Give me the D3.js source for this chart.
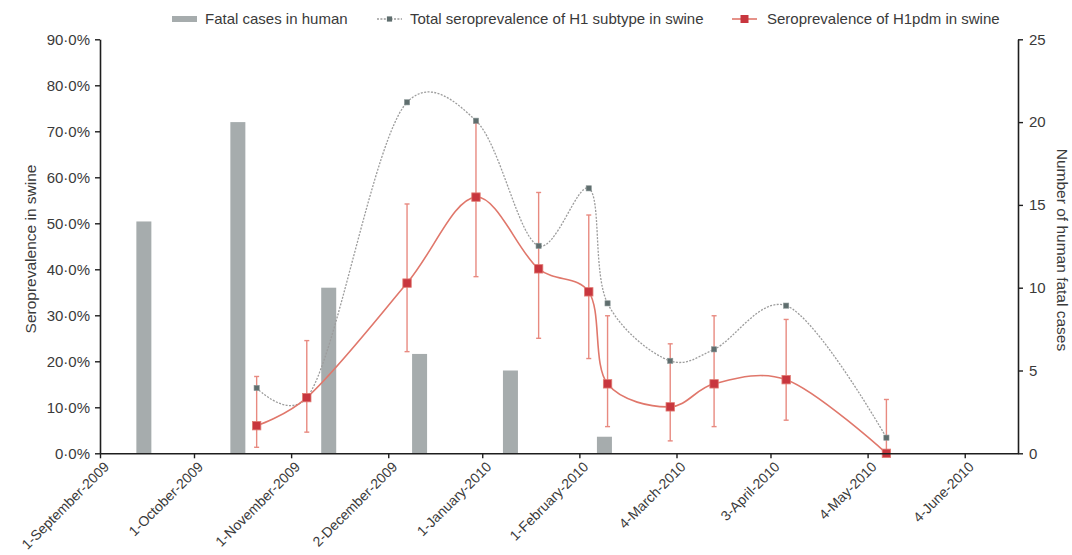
<!DOCTYPE html>
<html>
<head>
<meta charset="utf-8">
<script src="https://cdn.jsdelivr.net/npm/d3@7/dist/d3.min.js"></script>
<style>
  html, body { margin: 0; padding: 0; background: #fff; }
  svg { display: block; font-family: "Liberation Sans", Arial, sans-serif; }
</style>
</head>
<body>
<svg id="chart" width="1072" height="555"></svg>
<script>
// ---------------- data ----------------
const tickDates = ["2009-09-01","2009-10-01","2009-11-01","2009-12-02","2010-01-01","2010-02-01","2010-03-04","2010-04-03","2010-05-04","2010-06-04"];
const tickLabels = ["1-September-2009","1-October-2009","1-November-2009","2-December-2009","1-January-2010","1-February-2010","4-March-2010","3-April-2010","4-May-2010","4-June-2010"];

const barDates = ["2009-09-15","2009-10-15","2009-11-13","2009-12-12","2010-01-10","2010-02-09"];
const fatalCases = [14, 20, 10, 6, 5, 1];

const sampleDates = ["2009-10-21","2009-11-06","2009-12-08","2009-12-30","2010-01-19","2010-02-04","2010-02-10","2010-03-02","2010-03-16","2010-04-08","2010-05-10"];
const totalH1 = [14.2, 12.1, 76.3, 72.3, 45.1, 57.6, 32.6, 20.1, 22.6, 32.1, 3.4];
const h1pdm   = [6.0, 12.1, 37.0, 55.7, 40.1, 35.1, 15.1, 10.1, 15.1, 16.0, 0.0];
const h1pdmUpper = [16.7, 24.5, 54.2, 71.8, 56.7, 51.8, 29.9, 23.8, 29.9, 29.1, 11.7];
const h1pdmLower = [1.3, 4.6, 22.1, 38.4, 25.0, 20.6, 5.8, 2.7, 5.8, 7.2, 0.0];

const leftTicks = [0,10,20,30,40,50,60,70,80,90];
const rightTicks = [0,5,10,15,20,25];

const legendLabels = ["Fatal cases in human", "Total seroprevalence of H1 subtype in swine", "Seroprevalence of H1pdm in swine"];

// ---------------- layout ----------------
const parse = d3.timeParse("%Y-%m-%d");
const svg = d3.select("#chart");
const X0 = 100, X1 = 1018, Y0 = 453.3, Y1 = 39.3;

const x = d3.scaleTime().domain([parse("2009-09-01"), parse("2010-06-21")]).range([X0, X1]);
const yL = d3.scaleLinear().domain([0, 90]).range([Y0, Y1]);
const yR = d3.scaleLinear().domain([0, 25]).range([Y0, Y1]);

const barColor = "#a6acad";
const greyLine = "#9c9c9c";
const greyMarker = "#5f6e6e";
const redLine = "#e0776b";
const redMarker = "#c8363e";
const redErr = "#e88a80";
const textColor = "#3a3a3a";
const curve = d3.curveCatmullRom.alpha(0.25);

// bars
const barW = 15;
svg.append("g").selectAll("rect").data(fatalCases).join("rect")
  .attr("x", (d, i) => x(parse(barDates[i])) - barW / 2)
  .attr("y", d => yR(d))
  .attr("width", barW)
  .attr("height", d => Y0 - yR(d))
  .attr("fill", barColor);

const pts = sampleDates.map((d, i) => ({
  t: parse(d), total: totalH1[i], pdm: h1pdm[i], hi: h1pdmUpper[i], lo: h1pdmLower[i]
}));

// grey curve
const lineTotal = d3.line().x(d => x(d.t)).y(d => yL(d.total)).curve(curve);
svg.append("path").datum(pts).attr("d", lineTotal)
  .attr("fill", "none").attr("stroke", greyLine).attr("stroke-width", 1.3)
  .attr("stroke-dasharray", "2,1.4");

// red curve
const linePdm = d3.line().x(d => x(d.t)).y(d => yL(d.pdm)).curve(curve);
svg.append("path").datum(pts).attr("d", linePdm)
  .attr("fill", "none").attr("stroke", redLine).attr("stroke-width", 1.6);

// error bars
const eg = svg.append("g").attr("stroke", redErr).attr("stroke-width", 1.4);
pts.forEach(p => {
  const cx = x(p.t);
  eg.append("line").attr("x1", cx).attr("x2", cx).attr("y1", yL(p.hi)).attr("y2", yL(p.lo));
  eg.append("line").attr("x1", cx - 2.5).attr("x2", cx + 2.5).attr("y1", yL(p.hi)).attr("y2", yL(p.hi));
  eg.append("line").attr("x1", cx - 2.5).attr("x2", cx + 2.5).attr("y1", yL(p.lo)).attr("y2", yL(p.lo));
});

// grey markers
svg.append("g").selectAll("rect").data(pts).join("rect")
  .attr("x", d => x(d.t) - 2.6).attr("y", d => yL(d.total) - 2.6)
  .attr("width", 5.2).attr("height", 5.2)
  .attr("fill", greyMarker).attr("stroke", "#8a9696").attr("stroke-width", 0.6);

// red markers
svg.append("g").selectAll("rect").data(pts).join("rect")
  .attr("x", d => x(d.t) - 4.2).attr("y", d => yL(d.pdm) - 4.2)
  .attr("width", 8.4).attr("height", 8.4)
  .attr("fill", redMarker).attr("stroke", "#e07a72").attr("stroke-width", 0.8);

// axes
function styleAxis(g, size) {
  g.select(".domain").attr("stroke", "#1e1e1e").attr("stroke-width", 1.6);
  g.selectAll(".tick line").attr("stroke", "#1e1e1e").attr("stroke-width", 1.4);
  g.selectAll(".tick text").attr("fill", textColor).style("font-size", size)
    .style("font-family", '"Liberation Sans", Arial, sans-serif');
}

const axL = svg.append("g").attr("transform", `translate(${X0},0)`)
  .call(d3.axisLeft(yL).tickValues(leftTicks).tickSize(5).tickSizeOuter(0).tickPadding(5)
    .tickFormat(d => d + "·0%"));
styleAxis(axL, "15px");

const axR = svg.append("g").attr("transform", `translate(${X1},0)`)
  .call(d3.axisRight(yR).tickValues(rightTicks).tickSize(5).tickSizeOuter(0).tickPadding(6));
styleAxis(axR, "15px");

const axB = svg.append("g").attr("transform", `translate(0,${Y0})`)
  .call(d3.axisBottom(x).tickValues(tickDates.map(parse)).tickSize(5).tickSizeOuter(0)
    .tickFormat((d, i) => tickLabels[i]));
styleAxis(axB, "14px");
axB.selectAll(".tick text")
  .attr("text-anchor", "end")
  .attr("transform", "translate(6,11) rotate(-45)")
  .attr("x", 0).attr("y", 0).attr("dy", "0.35em");

// axis titles
svg.append("text")
  .attr("transform", `translate(36,249) rotate(-90)`)
  .attr("text-anchor", "middle").attr("fill", textColor).style("font-size", "15.5px")
  .text("Seroprevalence in swine");
svg.append("text")
  .attr("transform", `translate(1057,250) rotate(90)`)
  .attr("text-anchor", "middle").attr("fill", textColor).style("font-size", "15.5px")
  .text("Number of human fatal cases");

// legend
const lg = svg.append("g");
const ly = 19;
lg.append("rect").attr("x", 172).attr("y", ly - 3).attr("width", 25).attr("height", 6).attr("fill", barColor);
lg.append("text").attr("x", 205).attr("y", ly).attr("dy", "0.35em").attr("fill", textColor)
  .style("font-size", "15px").text(legendLabels[0]);

lg.append("line").attr("x1", 377).attr("x2", 402).attr("y1", ly).attr("y2", ly)
  .attr("stroke", greyLine).attr("stroke-width", 1.3).attr("stroke-dasharray", "2,1.4");
lg.append("rect").attr("x", 389.5 - 2.6).attr("y", ly - 2.6).attr("width", 5.2).attr("height", 5.2)
  .attr("fill", greyMarker);
lg.append("text").attr("x", 410).attr("y", ly).attr("dy", "0.35em").attr("fill", textColor)
  .style("font-size", "15px").text(legendLabels[1]);

lg.append("line").attr("x1", 732).attr("x2", 757).attr("y1", ly).attr("y2", ly)
  .attr("stroke", redLine).attr("stroke-width", 1.6);
lg.append("rect").attr("x", 744.5 - 4).attr("y", ly - 4).attr("width", 8).attr("height", 8)
  .attr("fill", redMarker);
lg.append("text").attr("x", 767).attr("y", ly).attr("dy", "0.35em").attr("fill", textColor)
  .style("font-size", "15px").text(legendLabels[2]);
</script>
</body>
</html>
